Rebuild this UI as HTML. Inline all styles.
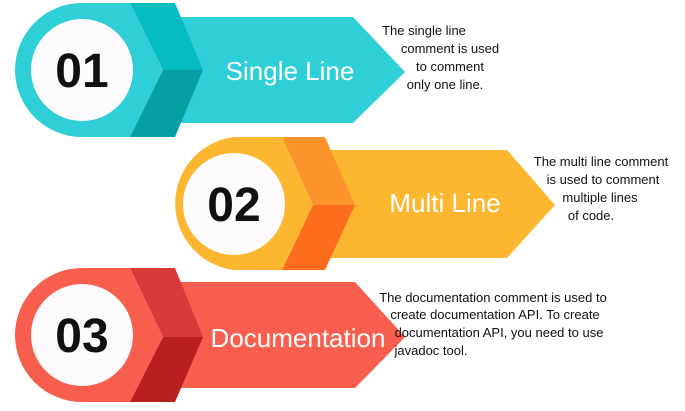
<!DOCTYPE html>
<html><head><style>
html,body{margin:0;padding:0;background:#fff;width:685px;height:411px;overflow:hidden}
svg text{font-family:"Liberation Sans",sans-serif}
</style></head><body>
<svg width="685" height="411" viewBox="0 0 685 411" xmlns="http://www.w3.org/2000/svg">
<!-- Row 1 -->
<g>
<path d="M82,3 H130 L163,70 L130,137 H82 A67,67 0 0 1 82,3 Z" fill="#2ecfd6"/>
<polygon points="175,17 353,17 405,72 353,123 175,123" fill="#2ecfd6"/>
<polygon points="130,3 175,3 203,70 163,70" fill="#05bcc0"/>
<polygon points="163,70 203,70 175,137 130,137" fill="#04a0a2"/>
<circle cx="82" cy="70" r="51" fill="#fdfbfd"/>
<text x="82" y="87" font-size="48" font-weight="bold" text-anchor="middle" fill="#111">01</text>
<text x="290" y="80" font-size="26" text-anchor="middle" fill="#fff">Single Line</text>
</g>
<!-- Row 2 -->
<g>
<path d="M234,137 H282 L313,205 L282,270 H234 A67,67 0 0 1 234,137 Z" fill="#fdb630"/>
<polygon points="325,150 507,150 555,205 507,258 325,258" fill="#fdb630"/>
<polygon points="282,137 325,137 355,205 313,205" fill="#fc942b"/>
<polygon points="313,205 355,205 325,270 282,270" fill="#fe6c1e"/>
<circle cx="234" cy="204" r="51" fill="#fdfbfd"/>
<text x="234" y="221" font-size="48" font-weight="bold" text-anchor="middle" fill="#111">02</text>
<text x="445" y="212" font-size="26" text-anchor="middle" fill="#fff">Multi Line</text>
</g>
<!-- Row 3 -->
<g>
<path d="M82,268 H130 L163,337 L130,402 H82 A67,67 0 0 1 82,268 Z" fill="#f85e4e"/>
<polygon points="175,282 355,282 405,337 355,388 175,388" fill="#f85e4e"/>
<polygon points="130,268 175,268 203,337 163,337" fill="#d83a3a"/>
<polygon points="163,337 203,337 175,402 130,402" fill="#b82020"/>
<circle cx="82" cy="335" r="51" fill="#fdfbfd"/>
<text x="82" y="352" font-size="48" font-weight="bold" text-anchor="middle" fill="#111">03</text>
<text x="298" y="347" font-size="26" text-anchor="middle" fill="#fff">Documentation</text>
</g>
<!-- Descriptions -->
<g font-size="13" fill="#111" text-anchor="middle">
<text x="424" y="35">The single line</text>
<text x="450" y="53">comment  is used</text>
<text x="450" y="71">to  comment</text>
<text x="445" y="89">only one line.</text>
<text x="601" y="166">The multi line comment</text>
<text x="603" y="184">is used to comment</text>
<text x="600" y="202">multiple lines</text>
<text x="591" y="220">of code.</text>
<text x="493" y="302">The documentation comment is used to</text>
<text x="495" y="319">create documentation API. To create</text>
<text x="499" y="337">documentation API, you need to use</text>
<text x="431" y="355">javadoc tool.</text>
</g>
</svg>
</body></html>
